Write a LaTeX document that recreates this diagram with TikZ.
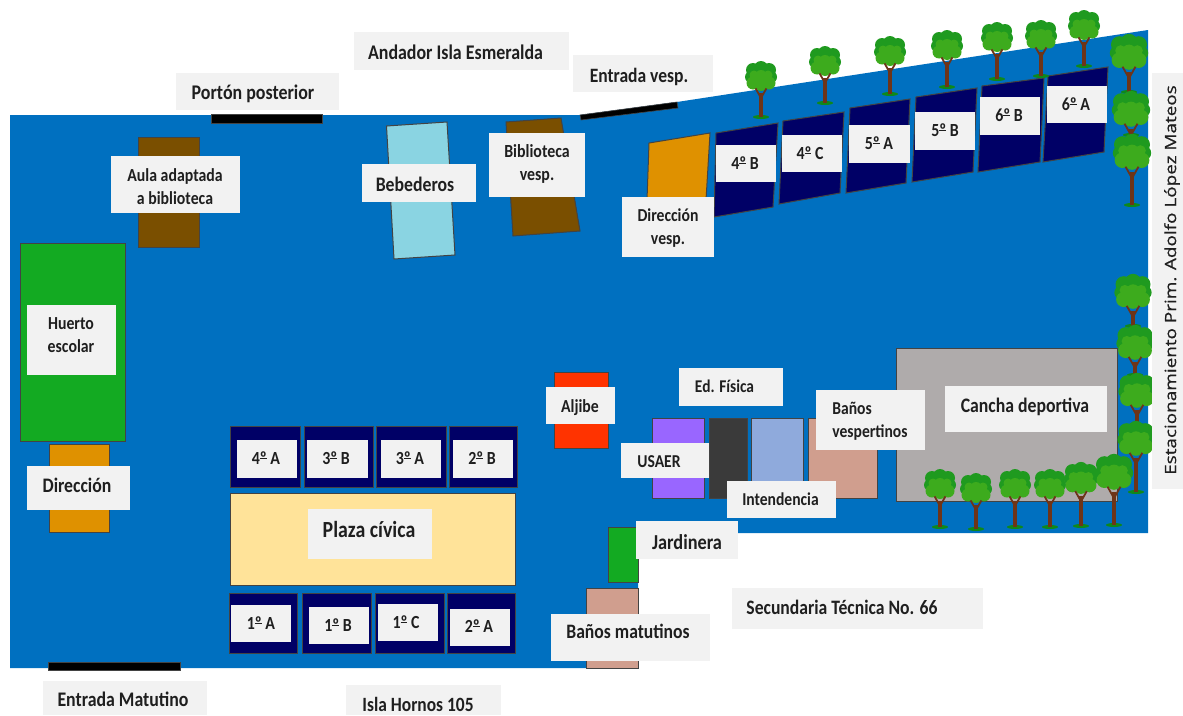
\documentclass[tikz,border=0pt]{standalone}
\usepackage{fontspec}
\setmainfont[FakeStretch=0.86]{Carlito}
\newfontfamily\widefont[FakeStretch=1.22,FakeBold=0.6]{Open Sans}
\definecolor{siteblue}{HTML}{0070C0}
\definecolor{navyroom}{HTML}{000066}
\definecolor{edgegray}{HTML}{434343}
\definecolor{labelgray}{HTML}{F2F2F2}
\definecolor{orangeroom}{HTML}{DF9100}
\definecolor{brownroom}{HTML}{7A4F00}
\definecolor{greenroom}{HTML}{13AA22}
\definecolor{lightcyan}{HTML}{8AD4E2}
\definecolor{plazayellow}{HTML}{FFE399}
\definecolor{redroom}{HTML}{FF3300}
\definecolor{purpleroom}{HTML}{9966FF}
\definecolor{darkroom}{HTML}{3A3A3A}
\definecolor{periwinkle}{HTML}{8FAADC}
\definecolor{pinkroom}{HTML}{D09E8E}
\definecolor{courtgray}{HTML}{AFABAB}
\definecolor{treedark}{HTML}{1F9A1F}
\definecolor{treelight}{HTML}{3DAB1D}
\definecolor{trunkbrown}{HTML}{6E3418}
\tikzset{
  room/.style={draw=edgegray,line width=1pt},
  bar/.style={fill=black,draw=edgegray,line width=.6pt},
  labelbox/.style={fill=labelgray},
  labeltext/.style={inner sep=0pt,align=center,text=black!88},
}
% ordinal sign underlined as the picture prints it
\newcommand\ordo{\makebox[0pt][l]{\rule[.32em]{.36em}{.07em}}º}
% name, x1, y1, x2, y2, text x, text y, size, text
\newcommand\lab[9]{%
  \fill[labelbox] (#2,#3) rectangle (#4,#5);
  \pgfmathsetmacro\labsize{#8*1.12}
  \node[labeltext,font={\fontsize{\labsize}{23}\selectfont\bfseries}] (#1) at (#6,#7) {\vphantom{Ag}#9\vphantom{Ag}};
}
% x, top, base, crown width
\newcommand\ptree[4]{%
  \begin{scope}[shift={(#1,#2)},scale=#4/30]
    \fill[treedark] (-8,8) circle (7) (0,6) circle (7) (8,8) circle (7) (-10,15) circle (6) (10,15) circle (6) (0,15) circle (9);
    \fill[treelight] (-8,21) circle (6.5) (8,21) circle (6.5) (0,14) circle (6) (-7,13) circle (4.5) (7,13) circle (4.5) (0,23) circle (6);
  \end{scope}
  \fill[greenroom!80!black] (#1,#3) ellipse (8 and 2);
  \draw[trunkbrown,line width=3.4pt] (#1,#3) -- (#1,{#2+#4*1.02});
  \draw[trunkbrown,line width=1.8pt] (#1,{#2+#4*1.2}) -- ({#1-#4*.18},{#2+#4*.88});
  \draw[trunkbrown,line width=1.8pt] (#1,{#2+#4*1.2}) -- ({#1+#4*.18},{#2+#4*.88});
}
\begin{document}
\begin{tikzpicture}[x=1pt,y=-1pt]
\useasboundingbox (0,0) rectangle (1183,715);
\fill[white] (0,0) rectangle (1183,715);
% site
\fill[siteblue] (10,115) -- (580,115) -- (677,102) -- (1148,30) -- (1148,533) -- (638,533) -- (638,668) -- (10,668) -- cycle;
% gates
\draw[bar] (48,662) rectangle (180,670);
\draw[bar] (211,114) rectangle (322,123);
\draw[bar] (580,115) -- (677,102) -- (678,108) -- (581,120) -- cycle;
% left side
\draw[room,fill=greenroom] (20,243) rectangle (125.5,441);
\draw[room,fill=orangeroom] (49,444) rectangle (109,532);
\draw[room,fill=brownroom] (138.5,137) rectangle (199.5,247);
% top
\draw[room,fill=lightcyan] (386.5,126) -- (447,122) -- (455,255) -- (394,259) -- cycle;
\draw[room,fill=brownroom] (506,122) -- (561,118) -- (580,231) -- (513,236) -- cycle;
\draw[room,fill=orangeroom] (649,143) -- (710,133) -- (706,200) -- (647,200) -- cycle;
% slanted classrooms
\draw[room,fill=navyroom] (716,133) -- (778,123) -- (773,207) -- (714,217) -- cycle;
\draw[room,fill=navyroom] (783,121) -- (844,112) -- (840,193) -- (779,204) -- cycle;
\draw[room,fill=navyroom] (850,108) -- (910,99) -- (906,183) -- (846,193) -- cycle;
\draw[room,fill=navyroom] (916,97) -- (977,88) -- (973,172) -- (912,182) -- cycle;
\draw[room,fill=navyroom] (982,86) -- (1044,78) -- (1040,162) -- (978,172) -- cycle;
\draw[room,fill=navyroom] (1048,76) -- (1108,67) -- (1104,152) -- (1043,162) -- cycle;
% central rows
\draw[room,fill=navyroom] (230,426) rectangle (300,487);
\draw[room,fill=navyroom] (304,426) rectangle (373,487);
\draw[room,fill=navyroom] (376,426) rectangle (446,487);
\draw[room,fill=navyroom] (449,426) rectangle (517,487);
\draw[room,fill=plazayellow] (230,493) rectangle (515.5,585);
\draw[room,fill=navyroom] (229,593) rectangle (297.5,653);
\draw[room,fill=navyroom] (302,593) rectangle (371,653);
\draw[room,fill=navyroom] (375,593) rectangle (444,653);
\draw[room,fill=navyroom] (447,593) rectangle (515.5,653);
% right block
\draw[room,fill=redroom] (554,372) rectangle (608.5,448);
\draw[room,fill=purpleroom] (652,418) rectangle (704,498);
\draw[room,fill=darkroom] (709,418) rectangle (747,498);
\draw[room,fill=periwinkle] (751,418) rectangle (803,498);
\draw[room,fill=pinkroom] (808,418) rectangle (877,498);
\draw[room,fill=courtgray] (896.5,348) rectangle (1117,501);
\draw[room,fill=greenroom] (608,527) rectangle (638,582);
\draw[room,fill=pinkroom] (586,588) rectangle (638,668);
% trees
\ptree{761}{62}{117}{30}
\ptree{825}{47}{103}{30}
\ptree{890}{37}{94}{30}
\ptree{947}{31}{87}{30}
\ptree{997}{23}{79}{30}
\ptree{1041}{21}{76}{30}
\ptree{1084}{11}{66}{30}
\ptree{1129}{35}{92}{36}
\ptree{1131}{92}{135}{36}
\ptree{1132}{135}{205}{36}
\ptree{1133}{275}{326}{35}
\ptree{1135}{326}{375}{35}
\ptree{1137}{374}{425}{35}
\ptree{1136}{422}{492}{35}
\ptree{940}{470}{527}{30}
\ptree{976}{474}{529}{30}
\ptree{1015}{470}{527}{30}
\ptree{1050}{470}{527}{30}
\ptree{1081}{463}{526}{32}
\ptree{1114}{455}{525}{36}
% labels
\lab{andador}{354}{32}{569}{70}{455.5}{54}{18.6}{Andador Isla Esmeralda}
\lab{porton}{176}{73}{339}{110}{253}{93.5}{18.6}{Portón posterior}
\lab{entvesp}{573}{55}{713}{92}{639}{77.5}{18.2}{Entrada vesp.}
\lab{aula}{111}{156}{240}{213}{175}{188}{16.4}{Aula adaptada\\a biblioteca}
\lab{bebederos}{362}{164}{476}{202}{415}{186.5}{18.4}{Bebederos}
\lab{biblio}{489}{133}{585}{197}{537}{164}{16.5}{Biblioteca\\vesp.}
\lab{dirvesp}{622}{197}{714}{257}{668}{228}{16.3}{Dirección\\vesp.}
\lab{r4b}{716}{145}{776}{182}{745}{165}{16.5}{4\ordo{} B}
\lab{r4c}{782}{135}{842}{172}{810}{155}{16.5}{4\ordo{} C}
\lab{r5a}{849}{125}{910}{163}{879}{145}{16.5}{5\ordo{} A}
\lab{r5b}{915}{112}{975}{150}{945}{132}{16.5}{5\ordo{} B}
\lab{r6b}{980}{97}{1040}{135}{1009}{117}{16.5}{6\ordo{} B}
\lab{r6a}{1047}{86}{1107}{123}{1076}{106}{16.5}{6\ordo{} A}
\lab{huerto}{27}{305}{116}{375}{71}{337}{16.4}{Huerto\\escolar}
\lab{direccion}{27}{466}{130}{510}{77}{487}{18.4}{Dirección}
\lab{r4a}{237}{440}{297}{478}{266}{460}{16.5}{4\ordo{} A}
\lab{r3b}{307}{440}{368}{478}{336}{460}{16.5}{3\ordo{} B}
\lab{r3a}{381}{440}{441}{478}{410}{460}{16.5}{3\ordo{} A}
\lab{r2b}{453}{440}{513}{478}{482}{460}{16.5}{2\ordo{} B}
\lab{plaza}{307.5}{509}{432}{559}{369}{531}{20.6}{Plaza cívica}
\lab{r1a}{231}{605}{291}{642}{261}{625}{16.5}{1\ordo{} A}
\lab{r1b}{309}{607}{369}{644}{338}{627}{16.5}{1\ordo{} B}
\lab{r1c}{378}{604}{438}{641}{406}{624}{16.5}{1\ordo{} C}
\lab{r2a}{450}{609}{510}{646}{479}{628}{16.5}{2\ordo{} A}
\lab{entmat}{43}{681}{207}{715}{123}{701}{18.5}{Entrada Matutino}
\lab{hornos}{346}{685}{501}{715}{418}{706}{18.1}{Isla Hornos 105}
\lab{aljibe}{546}{387}{615}{424}{580}{408}{16.4}{Aljibe}
\lab{edfisica}{679}{368}{783}{406}{724.5}{388}{16}{Ed. Física}
\lab{usaer}{621}{443}{709}{478}{659}{463}{16.2}{USAER}
\lab{banosv}{816}{390}{925}{450}{870}{421}{16.2}{\begin{tabular}{@{}l@{}}Baños\\vespertinos\end{tabular}}
\lab{cancha}{945}{386}{1107}{432}{1025}{407}{18.4}{Cancha deportiva}
\lab{intend}{726.5}{481}{835.5}{518}{780.5}{501}{16.2}{Intendencia}
\lab{jardinera}{636}{521}{738}{559}{687}{544}{19}{Jardinera}
\lab{secund}{732}{588}{983}{629}{842}{609}{18.3}{Secundaria Técnica No. 66}
\lab{banosm}{551}{614}{710}{661}{628}{633}{18.3}{Baños matutinos}
\fill[labelbox] (1152,73) rectangle (1183,489);
\node[rotate=90,inner sep=0pt,text=black!88,font={\widefont\fontsize{15.5}{17}\selectfont}] (estac) at (1172,280) {Estacionamiento Prim. Adolfo López Mateos};
\end{tikzpicture}
\end{document}
